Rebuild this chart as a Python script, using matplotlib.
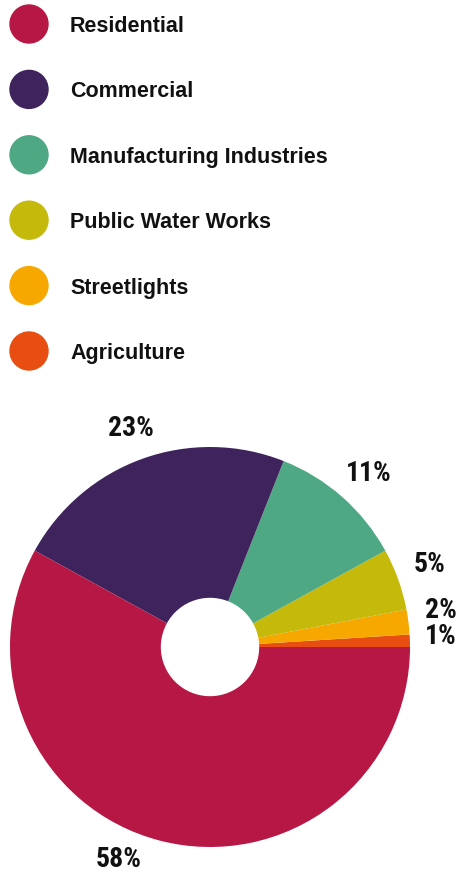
import numpy as np
import matplotlib
matplotlib.use("Agg")
from matplotlib import pyplot as plt
from matplotlib.patches import Circle

# data
sectors = ['Residential', 'Commercial', 'Manufacturing Industries',
           'Public Water Works', 'Streetlights', 'Agriculture']
shares = [58, 23, 11, 5, 2, 1]
colors = ['#B71744', '#3E235C', '#4EA883', '#C5B90C', '#F7A800', '#E84E12']

W, H = 459, 873
fig = plt.figure(figsize=(W / 100, H / 100), dpi=100)
ax = fig.add_axes([0, 0, 1, 1])

# pie drawn counter-clockwise from 3 o'clock, smallest slice first
order = list(reversed(range(len(shares))))
vals = [shares[i] for i in order]
cols = [colors[i] for i in order]
cx, cy, r = 210, H - 647, 200
wedges, _ = ax.pie(vals, colors=cols, startangle=0, counterclock=True,
                   center=(cx, cy), radius=r,
                   wedgeprops=dict(linewidth=0))
ax.add_patch(Circle((cx, cy), 48.5, color='white', zorder=5))

# percent labels, small angle nudges for the tight slices
nudge = {0: 1, 1: 2, 2: 1, 3: -1, 4: 0, 5: -9}
dist = {0: 231, 1: 234, 2: 235, 3: 236, 4: 233, 5: 230}
pct_font = ['Roboto Condensed', 'DejaVu Sans']
for k, w in enumerate(wedges):
    ang = np.deg2rad((w.theta1 + w.theta2) / 2 + nudge[k])
    ax.text(cx + dist[k] * np.cos(ang), cy + dist[k] * np.sin(ang) - 1,
            f"{vals[k]}%", ha='center', va='center', fontsize=20,
            fontweight='bold', family=pct_font, color='#111111')

# legend
for i, name in enumerate(sectors):
    ytop = 24 + i * 65.4
    ax.add_patch(Circle((29, H - ytop), 19, color=colors[i]))
    ax.text(70, H - ytop - 8, name, ha='left', va='baseline', fontsize=15.5,
            fontweight='bold', family=['Liberation Sans', 'DejaVu Sans'],
            color='#111111')

ax.set_xlim(0, W)
ax.set_ylim(0, H)
ax.set_aspect('equal')
ax.axis('off')
fig.savefig('out.png', dpi=100)
